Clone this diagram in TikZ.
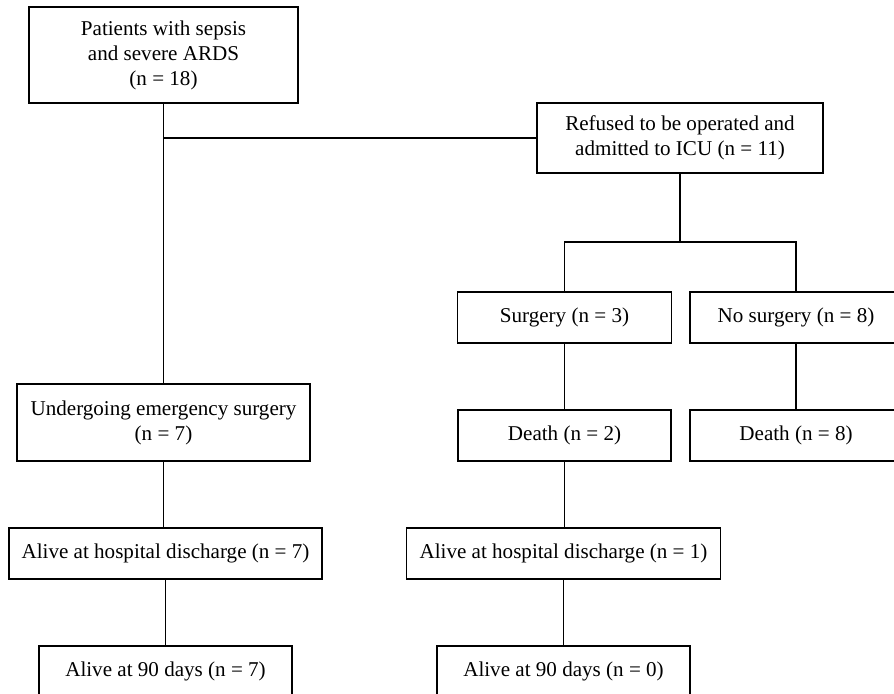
\documentclass[tikz,border=0pt]{standalone}
\usepackage{fontspec}
\setmainfont{Liberation Serif}
\begin{document}
\begin{tikzpicture}[x=0.02cm,y=-0.02cm,
  box/.style={draw, line width=0.9pt, align=center, inner sep=0pt,
    font=\fontsize{12}{14.2}\selectfont},
  link/.style={line width=0.9pt}]
  \useasboundingbox (0,0) rectangle (894,694);
  \clip (0,0) rectangle (894,694);
  % left column
  \node[box, minimum width=5.38cm, minimum height=1.92cm] (pat) at (163.5,55) {Patients with sepsis\\and severe ARDS\\(n = 18)};
  \node[box, minimum width=5.86cm, minimum height=1.54cm] (und) at (163.5,422.5) {Undergoing emergency surgery\\(n = 7)};
  \node[box, minimum width=6.26cm, minimum height=1.02cm] (ah7) at (165.5,553.5) {Alive at hospital discharge (n = 7)};
  \node[box, minimum width=5.06cm, minimum height=1.02cm] (a7) at (165.5,671.5) {Alive at 90 days (n = 7)};
  % right part
  \node[box, minimum width=5.72cm, minimum height=1.40cm] (ref) at (680,138) {Refused to be operated and\\admitted to ICU (n = 11)};
  \node[box, minimum width=4.28cm, minimum height=1.02cm] (surg) at (564.5,317.5) {Surgery (n = 3)};
  \node[box, minimum width=4.24cm, minimum height=1.02cm] (nosurg) at (796,317.5) {No surgery (n = 8)};
  \node[box, minimum width=4.26cm, minimum height=1.02cm] (d2) at (564.5,435.5) {Death (n = 2)};
  \node[box, minimum width=4.24cm, minimum height=1.02cm] (d8) at (796,435.5) {Death (n = 8)};
  \node[box, minimum width=6.28cm, minimum height=1.02cm] (ah1) at (563.5,553.5) {Alive at hospital discharge (n = 1)};
  \node[box, minimum width=5.06cm, minimum height=1.02cm] (a0) at (563.5,671.5) {Alive at 90 days (n = 0)};
  \coordinate (fork) at (680,242);
  \draw[link] (pat.south) -- (pat.south |- und.north);
  \draw[link] (pat.south |- ref.west) -- (ref.west);
  \draw[link] (ref.south) -- (fork);
  \draw[link] (surg.north) |- (fork) -| (nosurg.north);
  \foreach \a/\b in {und/ah7, ah7/a7, surg/d2, nosurg/d8, d2/ah1, ah1/a0}
    \draw[link] (\a.south) -- (\a.south |- \b.north);
\end{tikzpicture}
\end{document}
